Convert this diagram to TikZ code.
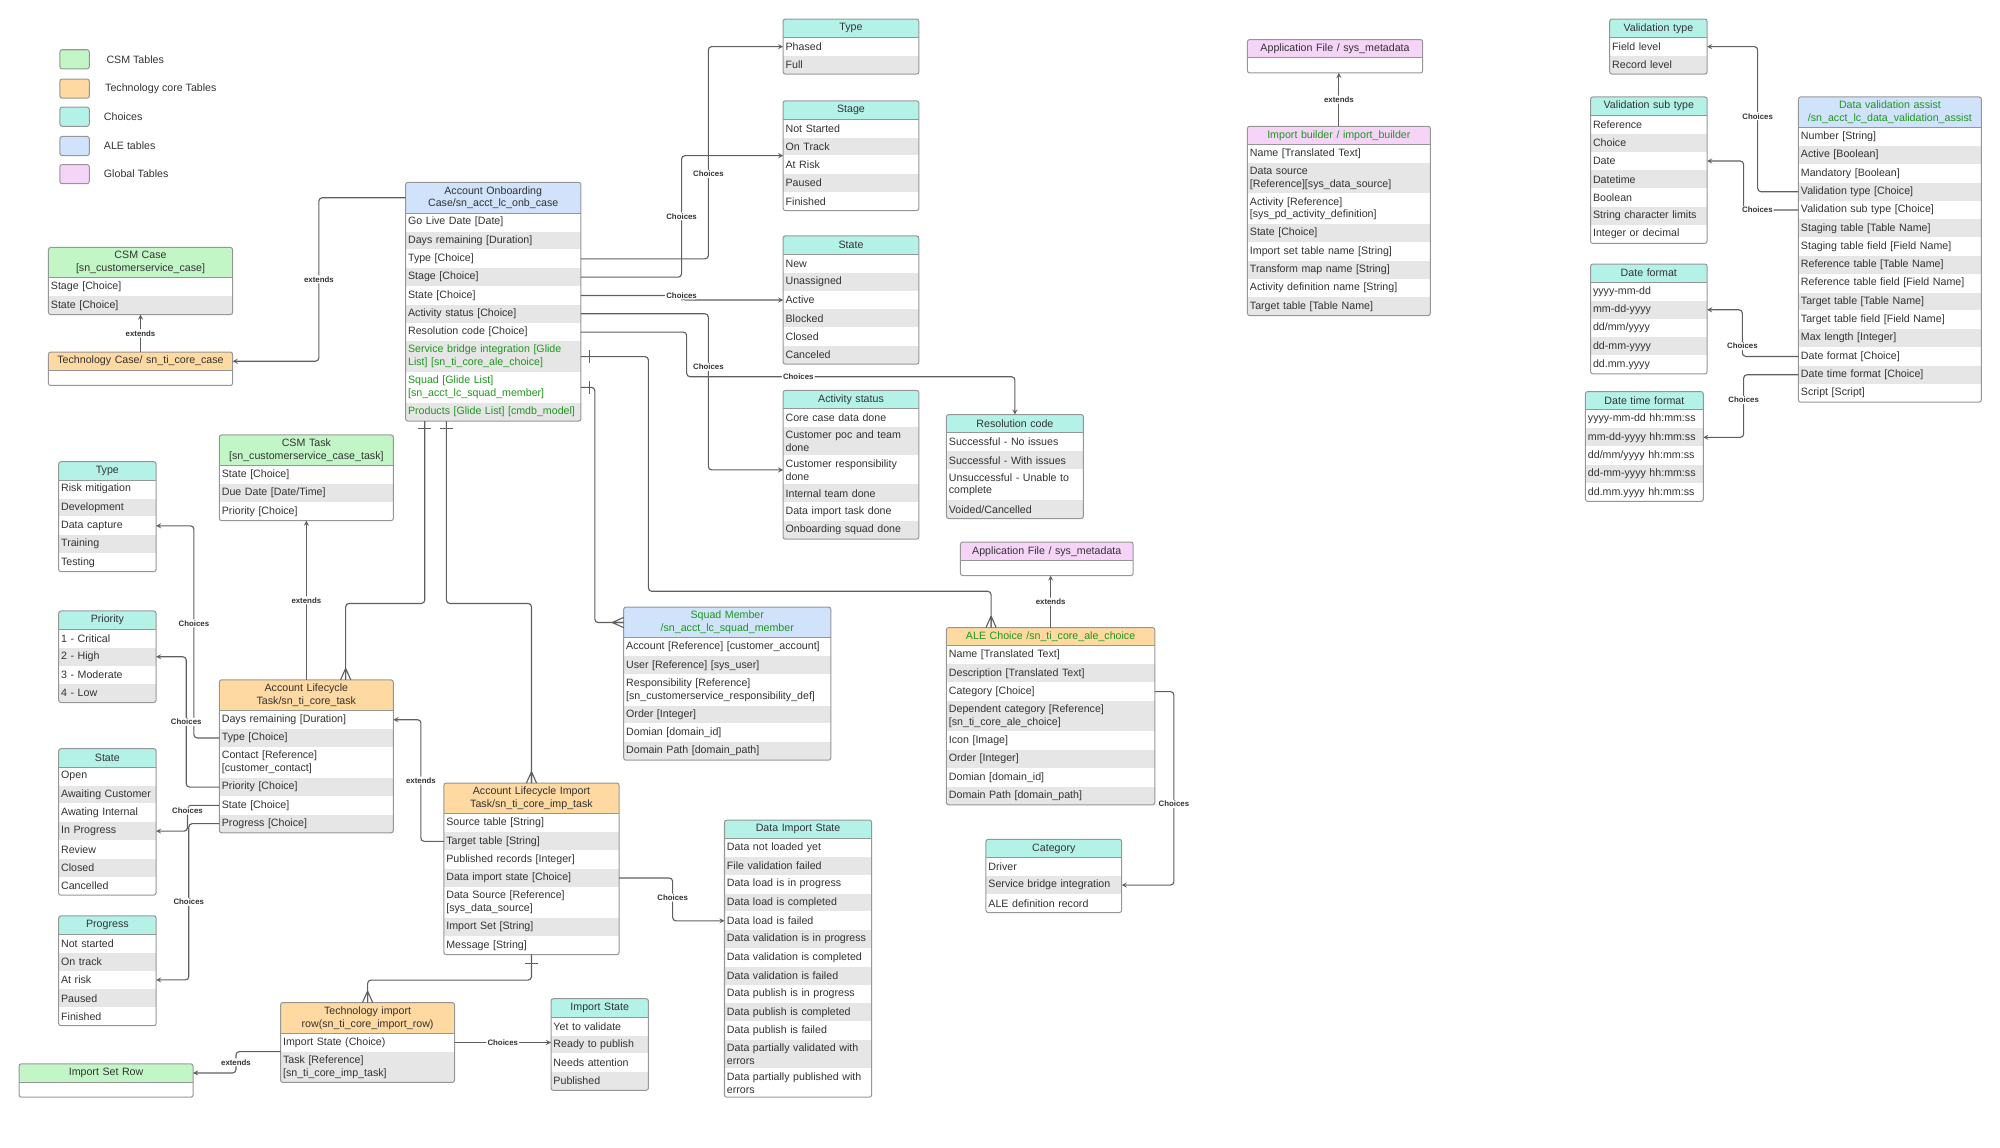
\documentclass[tikz,border=0pt]{standalone}
\usepackage{fontspec}
\setmainfont{Liberation Sans}
\usepackage{xcolor}
\usetikzlibrary{positioning,calc}

\definecolor{csmgreen}{RGB}{195,246,199}
\definecolor{coreorange}{RGB}{254,217,161}
\definecolor{choiceteal}{RGB}{180,242,232}
\definecolor{aleblue}{RGB}{208,227,251}
\definecolor{globalpink}{RGB}{245,212,248}
\definecolor{rowgray}{RGB}{230,230,230}
\definecolor{edgegray}{RGB}{150,150,150}
\definecolor{wiregray}{RGB}{95,95,95}
\definecolor{textgray}{RGB}{51,51,51}
\definecolor{glidegreen}{RGB}{30,150,30}

\newcommand{\grn}{\color{glidegreen}}

% header row, then the field rows stacked below it
\newcommand{\tbl}[6]{%
  \pgfmathsetlengthmacro\tblw{#3*0.4mm-4pt}%
  \node (#1-0) [headbox, fill=#4, text width=\tblw] at (#2) {#5};
  \foreach \fld [count=\idx] in {#6} {
    \pgfmathtruncatemacro\prev{\idx-1}
    \ifodd\idx \def\rf{white}\else \def\rf{rowgray}\fi
    \ifx\fld\empty \def\rh{4.6mm}\else \def\rh{5.6mm}\fi
    \node (#1-\idx) [rowbox, fill=\rf, minimum height=\rh, text width=\tblw, below=0pt of #1-\prev] {\fld};
    \xdef\tbllast{\idx}
  }
  \draw [tblline] (#1-0.south west) -- (#1-0.south east);
  \draw [tblline, rounded corners=2pt] (#1-0.north west) rectangle (#1-\tbllast.south east);
}

\begin{document}
\begin{tikzpicture}[x=0.4mm, y=-0.4mm,
    headbox/.style={anchor=north west, inner xsep=2pt, inner ysep=3.4pt, minimum height=5.6mm, align=center, text=textgray, font=\fontsize{9.5}{11.4}\selectfont},
    rowbox/.style={inner xsep=2pt, inner ysep=3.4pt, align=left, text=textgray, font=\fontsize{9.5}{11.4}\selectfont},
    tblline/.style={draw=edgegray, line width=0.9pt},
    wire/.style={draw=wiregray, line width=1pt, rounded corners=3pt},
    tag/.style={fill=white, inner sep=1pt, text=textgray, font=\bfseries\fontsize{7}{8}\selectfont},
    legbox/.style={draw=edgegray, line width=0.9pt, rounded corners=2pt, minimum width=9.2mm, minimum height=6mm},
    legtext/.style={text=textgray, font=\fontsize{9.5}{11.4}\selectfont},
    crowdown/.pic={\draw [wire] (0,-9) -- (-4,0) (0,-9) -- (0,0) (0,-9) -- (4,0);},
    crowleft/.pic={\draw [wire] (-9,0) -- (0,-4) (-9,0) -- (0,0) (-9,0) -- (0,4);},
    barh/.pic={\draw [wire] (0,-5) -- (0,5);},
    barv/.pic={\draw [wire] (-5,0) -- (5,0);}]

    \useasboundingbox (0,0) rectangle (1568,900);

    % legend
    \node (legcsm) [legbox, fill=csmgreen] at (58.5,46.5) {};
    \node (legcore) [legbox, fill=coreorange] at (58.5,69.5) {};
    \node (legchoice) [legbox, fill=choiceteal] at (58.5,91.5) {};
    \node (legale) [legbox, fill=aleblue] at (58.5,114.5) {};
    \node (legglobal) [legbox, fill=globalpink] at (58.5,136.5) {};
    \node (legcsmtxt) [legtext, right=4mm of legcsm] {CSM Tables};
    \node (legcoretxt) [legtext, right=3.6mm of legcore] {Technology core Tables};
    \node (legchoicetxt) [legtext, right=3.2mm of legchoice] {Choices};
    \node (legaletxt) [legtext, right=3.2mm of legale] {ALE tables};
    \node (legglobaltxt) [legtext, right=3.2mm of legglobal] {Global Tables};

    \tbl{csmcase}{38,194}{144}{csmgreen}{CSM Case\\{}[sn\_customerservice\_case]}{Stage [Choice], State [Choice]}
    \tbl{techcase}{38,276}{144}{coreorange}{Technology Case/ sn\_ti\_core\_case}{{}}

    \tbl{aocase}{318,143}{137}{aleblue}{Account Onboarding\\Case/sn\_acct\_lc\_onb\_case}{Go Live Date [Date], Days remaining [Duration], Type [Choice], Stage [Choice], State [Choice], Activity status [Choice], Resolution code [Choice], {\grn Service bridge integration [Glide\\List] [sn\_ti\_core\_ale\_choice]}, {\grn Squad [Glide List]\\{}[sn\_acct\_lc\_squad\_member]}, {\grn Products [Glide List] [cmdb\_model]}}

    \tbl{type}{614,15}{106}{choiceteal}{Type}{Phased, Full}
    \tbl{stage}{614,79}{106}{choiceteal}{Stage}{Not Started, On Track, At Risk, Paused, Finished}
    \tbl{state}{614,185}{106}{choiceteal}{State}{New, Unassigned, Active, Blocked, Closed, Canceled}
    \tbl{actstat}{614,306}{106}{choiceteal}{Activity status}{Core case data done, Customer poc and team\\done, Customer responsibility\\done, Internal team done, Data import task done, Onboarding squad done}
    \tbl{rescode}{742,325}{107}{choiceteal}{Resolution code}{Successful - No issues, Successful - With issues, Unsuccessful - Unable to\\complete, Voided/Cancelled}

    \tbl{appfilea}{978,31}{137}{globalpink}{Application File / sys\_metadata}{{}}
    \tbl{impbuild}{978,99}{143}{globalpink}{\grn Import builder / import\_builder}{Name [Translated Text], Data source\\{}[Reference][sys\_data\_source], Activity [Reference]\\{}[sys\_pd\_activity\_definition], State [Choice], Import set table name [String], Transform map name [String], Activity definition name [String], Target table [Table Name]}

    \tbl{valtype}{1262,15}{76}{choiceteal}{Validation type}{Field level, Record level}
    \tbl{valsub}{1247,76}{91}{choiceteal}{Validation sub type}{Reference, Choice, Date, Datetime, Boolean, String character limits, Integer or decimal}
    \tbl{datefmt}{1247,207}{91}{choiceteal}{Date format}{yyyy-mm-dd, mm-dd-yyyy, dd/mm/yyyy, dd-mm-yyyy, dd.mm.yyyy}
    \tbl{dtfmt}{1243,307}{92}{choiceteal}{Date time format}{yyyy-mm-dd hh:mm:ss, mm-dd-yyyy hh:mm:ss, dd/mm/yyyy hh:mm:ss, dd-mm-yyyy hh:mm:ss, dd.mm.yyyy hh:mm:ss}
    \tbl{dva}{1410,76}{143}{aleblue}{\grn Data validation assist\\/sn\_acct\_lc\_data\_validation\_assist}{Number [String], Active [Boolean], Mandatory [Boolean], Validation type [Choice], Validation sub type [Choice], Staging table [Table Name], Staging table field [Field Name], Reference table [Table Name], Reference table field [Field Name], Target table [Table Name], Target table field [Field Name], Max length [Integer], Date format [Choice], Date time format [Choice], Script [Script]}

    \tbl{ttype}{46,362}{76}{choiceteal}{Type}{Risk mitigation, Development, Data capture, Training, Testing}
    \tbl{prio}{46,479}{76}{choiceteal}{Priority}{1 - Critical, 2 - High, 3 - Moderate, 4 - Low}
    \tbl{tstate}{46,587}{76}{choiceteal}{State}{Open, Awaiting Customer, Awating Internal, In Progress, Review, Closed, Cancelled}
    \tbl{progress}{46,718}{76}{choiceteal}{Progress}{Not started, On track, At risk, Paused, Finished}

    \tbl{csmtask}{172,341}{136}{csmgreen}{CSM Task\\{}[sn\_customerservice\_case\_task]}{State [Choice], Due Date [Date/Time], Priority [Choice]}
    \tbl{altask}{172,533}{136}{coreorange}{Account Lifecycle\\Task/sn\_ti\_core\_task}{Days remaining [Duration], Type [Choice], Contact [Reference]\\{}[customer\_contact], Priority [Choice], State [Choice], Progress [Choice]}
    \tbl{alimp}{348,614}{137}{coreorange}{Account Lifecycle Import\\Task/sn\_ti\_core\_imp\_task}{Source table [String], Target table [String], Published records [Integer], Data import state [Choice], Data Source [Reference]\\{}[sys\_data\_source], Import Set [String], Message [String]}
    \tbl{squad}{489,476}{162}{aleblue}{\grn Squad Member\\/sn\_acct\_lc\_squad\_member}{Account [Reference] [customer\_account], User [Reference] [sys\_user], Responsibility [Reference]\\{}[sn\_customerservice\_responsibility\_def], Order [Integer], Domian [domain\_id], Domain Path [domain\_path]}

    \tbl{appfileb}{753,425}{135}{globalpink}{Application File / sys\_metadata}{{}}
    \tbl{alechoice}{742,492}{163}{coreorange}{\grn ALE Choice /sn\_ti\_core\_ale\_choice}{Name [Translated Text], Description [Translated Text], Category [Choice], Dependent category [Reference]\\{}[sn\_ti\_core\_ale\_choice], Icon [Image], Order [Integer], Domian [domain\_id], Domain Path [domain\_path]}
    \tbl{category}{773,658}{106}{choiceteal}{Category}{Driver, Service bridge integration, ALE definition record}
    \tbl{dis}{568,643}{115}{choiceteal}{Data Import State}{Data not loaded yet, File validation failed, Data load is in progress, Data load is completed, Data load is failed, Data validation is in progress, Data validation is completed, Data validation is failed, Data publish is in progress, Data publish is completed, Data publish is failed, Data partially validated with\\errors, Data partially published with\\errors}

    \tbl{techrow}{220,786}{136}{coreorange}{Technology import\\row(sn\_ti\_core\_import\_row)}{Import State (Choice), Task [Reference]\\{}[sn\_ti\_core\_imp\_task]}
    \tbl{impstate}{432,783}{76}{choiceteal}{Import State}{Yet to validate, Ready to publish, Needs attention, Published}
    \tbl{isrow}{15,834}{136}{csmgreen}{Import Set Row}{{}}

    % extends
    \draw [wire, -stealth] (aocase-0.west) -- ++(-68,0) |- node [tag, pos=0.25] {extends} (techcase-0.east);
    \draw [wire, -stealth] (techcase-0.north) -- node [tag] {extends} (csmcase-2.south);
    \draw [wire, -stealth] (altask-0.north) -- node [tag] {extends} (csmtask-3.south);
    \draw [wire, -stealth] (alimp-2.west) -- ++(-18,0) |- node [tag, pos=0.25] {extends} (altask-1.east);
    \draw [wire, -stealth] (techrow-2.north west) -- ++(-35,0) |- node [tag, pos=0.25] {extends} (isrow-0.east);
    \draw [wire, -stealth] (alechoice-0.north) -- node [tag] {extends} (alechoice-0.north |- appfileb-1.south);
    \draw [wire, -stealth] (impbuild-0.north) -- node [tag] {extends} (impbuild-0.north |- appfilea-1.south);

    % choices of the onboarding case
    \draw [wire, -stealth] (aocase-3.east) -- ++(100,0) |- node [tag, pos=0.2] {Choices} (type-1.west);
    \draw [wire, -stealth] (aocase-4.east) -- ++(79,0) |- node [tag, pos=0.25] {Choices} (stage-3.north west);
    \draw [wire, -stealth] (aocase-5.east) -- ++(79,0) node [tag] {Choices} |- (state-3.west);
    \draw [wire, -stealth] (aocase-6.east) -- ++(100,0) |- node [tag, pos=0.17] {Choices} (actstat-3.west);
    \draw [wire, -stealth] (aocase-7.east) -- ++(83,0) -- ++(0,35) -| node [tag, pos=0.17] {Choices} (rescode-0.north);

    % glide lists
    \draw [wire] (aocase-8.east) -- ++(53,0) -- ++(0,184) -| ($(alechoice-0.north west)+(35,0)$);
    \pic at ($(aocase-8.east)+(7,0)$) {barh};
    \pic at ($(alechoice-0.north west)+(35,0)$) {crowdown};
    \draw [wire] (aocase-9.east) -- ++(11,0) |- (squad-0.west);
    \pic at ($(aocase-9.east)+(7,0)$) {barh};
    \pic at (squad-0.west) {crowleft};
    \draw [wire] ($(aocase-10.south west)+(15,0)$) -- ++(0,143) -| ($(altask-0.north west)+(99,0)$);
    \pic at ($(aocase-10.south west)+(15,6)$) {barv};
    \pic at ($(altask-0.north west)+(99,0)$) {crowdown};
    \draw [wire] ($(aocase-10.south west)+(32,0)$) -- ++(0,143) -| (alimp-0.north);
    \pic at ($(aocase-10.south west)+(32,6)$) {barv};
    \pic at (alimp-0.north) {crowdown};
    \draw [wire] (alimp-7.south) -- ++(0,20) -| (techrow-0.north);
    \pic at ($(alimp-7.south)+(0,7)$) {barv};
    \pic at (techrow-0.north) {crowdown};

    % choices of the lifecycle task
    \draw [wire, -stealth] (altask-2.west) -- ++(-20,0) |- node [tag, pos=0.27] {Choices} (ttype-3.east);
    \draw [wire, -stealth] (altask-4.west) -- ++(-26,0) |- node [tag, pos=0.25] {Choices} (prio-2.east);
    \draw [wire, -stealth] (altask-5.west) -- ++(-25,0) |- node [tag, pos=0.1] {Choices} (tstate-4.east);
    \draw [wire, -stealth] (altask-6.west) -- ++(-24,0) |- node [tag, pos=0.25] {Choices} (progress-3.east);

    \draw [wire, -stealth] (alimp-4.east) -- ++(42,0) |- node [tag, pos=0.23] {Choices} (dis-5.west);
    \draw [wire, -stealth] (techrow-1.east) -- node [tag] {Choices} (techrow-1.east -| impstate-2.west);
    \draw [wire, -stealth] (alechoice-3.east) -- ++(15,0) |- node [tag, pos=0.29] {Choices} (category-2.east);

    % validation assist
    \draw [wire, -stealth] (dva-4.west) -- ++(-32,0) |- node [tag, pos=0.26] {Choices} (valtype-1.east);
    \draw [wire, -stealth] (dva-5.west) -- node [tag, pos=0.75] {Choices} ++(-43,0) |- (valsub-3.east);
    \draw [wire, -stealth] (dva-13.west) -- ++(-44,0) |- node [tag, pos=0.11] {Choices} (datefmt-2.east);
    \draw [wire, -stealth] (dva-14.west) -- ++(-43,0) |- node [tag, pos=0.2] {Choices} (dtfmt-2.east);

\end{tikzpicture}
\end{document}
